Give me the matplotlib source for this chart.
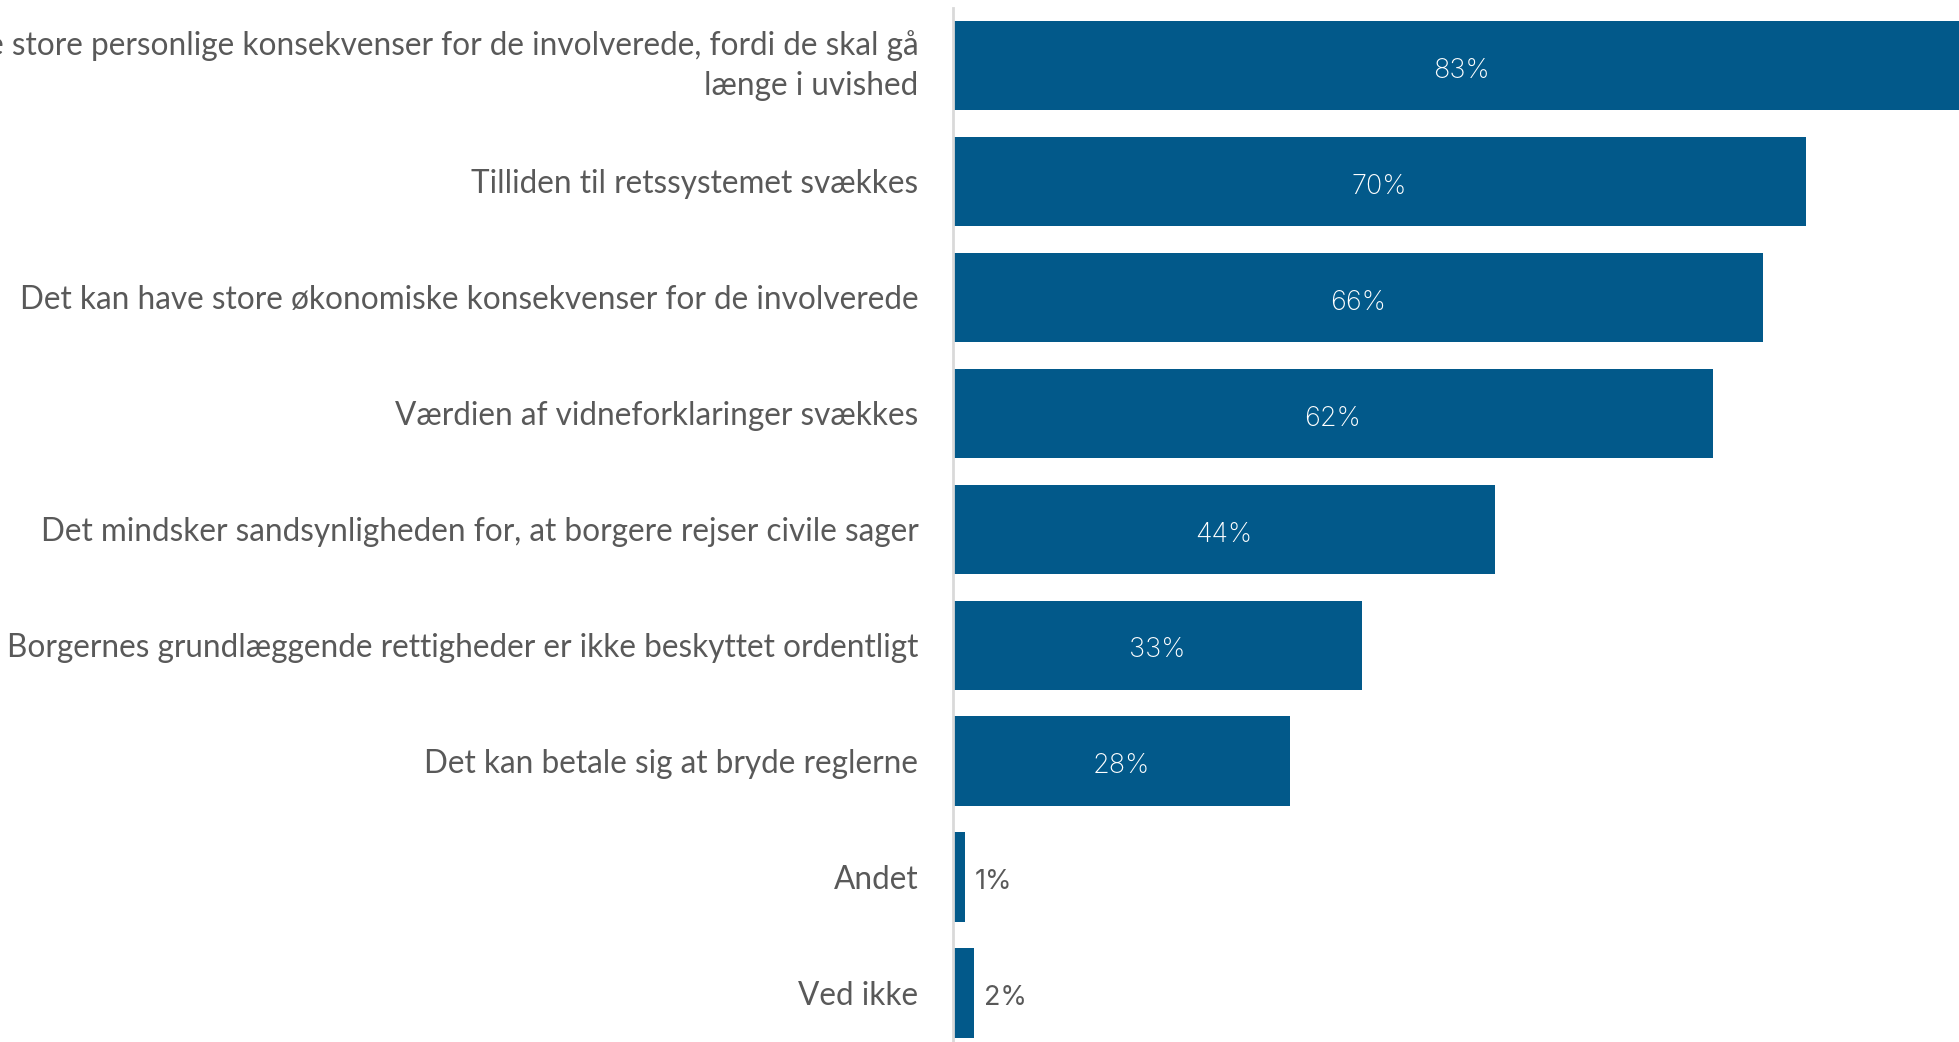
import matplotlib
matplotlib.use("Agg")
import matplotlib.pyplot as plt

categories = [
    "Det kan have store personlige konsekvenser for de involverede, fordi de skal gå\nlænge i uvished",
    "Tilliden til retssystemet svækkes",
    "Det kan have store økonomiske konsekvenser for de involverede",
    "Værdien af vidneforklaringer svækkes",
    "Det mindsker sandsynligheden for, at borgere rejser civile sager",
    "Borgernes grundlæggende rettigheder er ikke beskyttet ordentligt",
    "Det kan betale sig at bryde reglerne",
    "Andet",
    "Ved ikke",
]
# bar lengths (unrounded shares)
values = [83.0, 69.6, 66.1, 62.0, 44.2, 33.4, 27.5, 1.0, 1.7]
value_labels = ["83%", "70%", "66%", "62%", "44%", "33%", "28%", "1%", "2%"]

BAR = "#02598a"
GREY = "#595959"

fig = plt.figure(figsize=(19.59, 10.42), dpi=100)
# axes spans from the grey axis line to the right edge
ax = fig.add_axes([953 / 1959, 0, 1 - 953 / 1959, 1 - 8 / 1042])

y = list(range(len(categories)))
ax.barh(y, values, height=0.77, color=BAR)

ax.set_xlim(0, 82.1)
ax.set_ylim(8.423, -0.496)

ax.set_yticks(y)
ax.set_yticklabels(categories, fontsize=22.7, color=GREY, family="Lato",
                   linespacing=1.45)
for lab in ax.get_yticklabels():
    # multi-line label centred as a block, single lines on their baseline centre
    lab.set_va("center" if "\n" in lab.get_text() else "center_baseline")
ax.tick_params(axis="y", length=0, pad=25)
ax.set_xticks([])

for s in ["top", "right", "bottom"]:
    ax.spines[s].set_visible(False)
ax.spines["left"].set_color("#d9d9d9")
ax.spines["left"].set_linewidth(2)

for yi, v, lab in zip(y, values, value_labels):
    if v >= 10:
        ax.text(v / 2, yi + 0.02, lab, ha="center", va="center_baseline", color="white",
                fontsize=19.5, family="Inter", fontweight="light")
    else:
        ax.text(v + 0.8, yi + 0.02, lab, ha="left", va="center_baseline", color=GREY,
                fontsize=19.5, family="Inter")

fig.savefig("out.png", dpi=100)
